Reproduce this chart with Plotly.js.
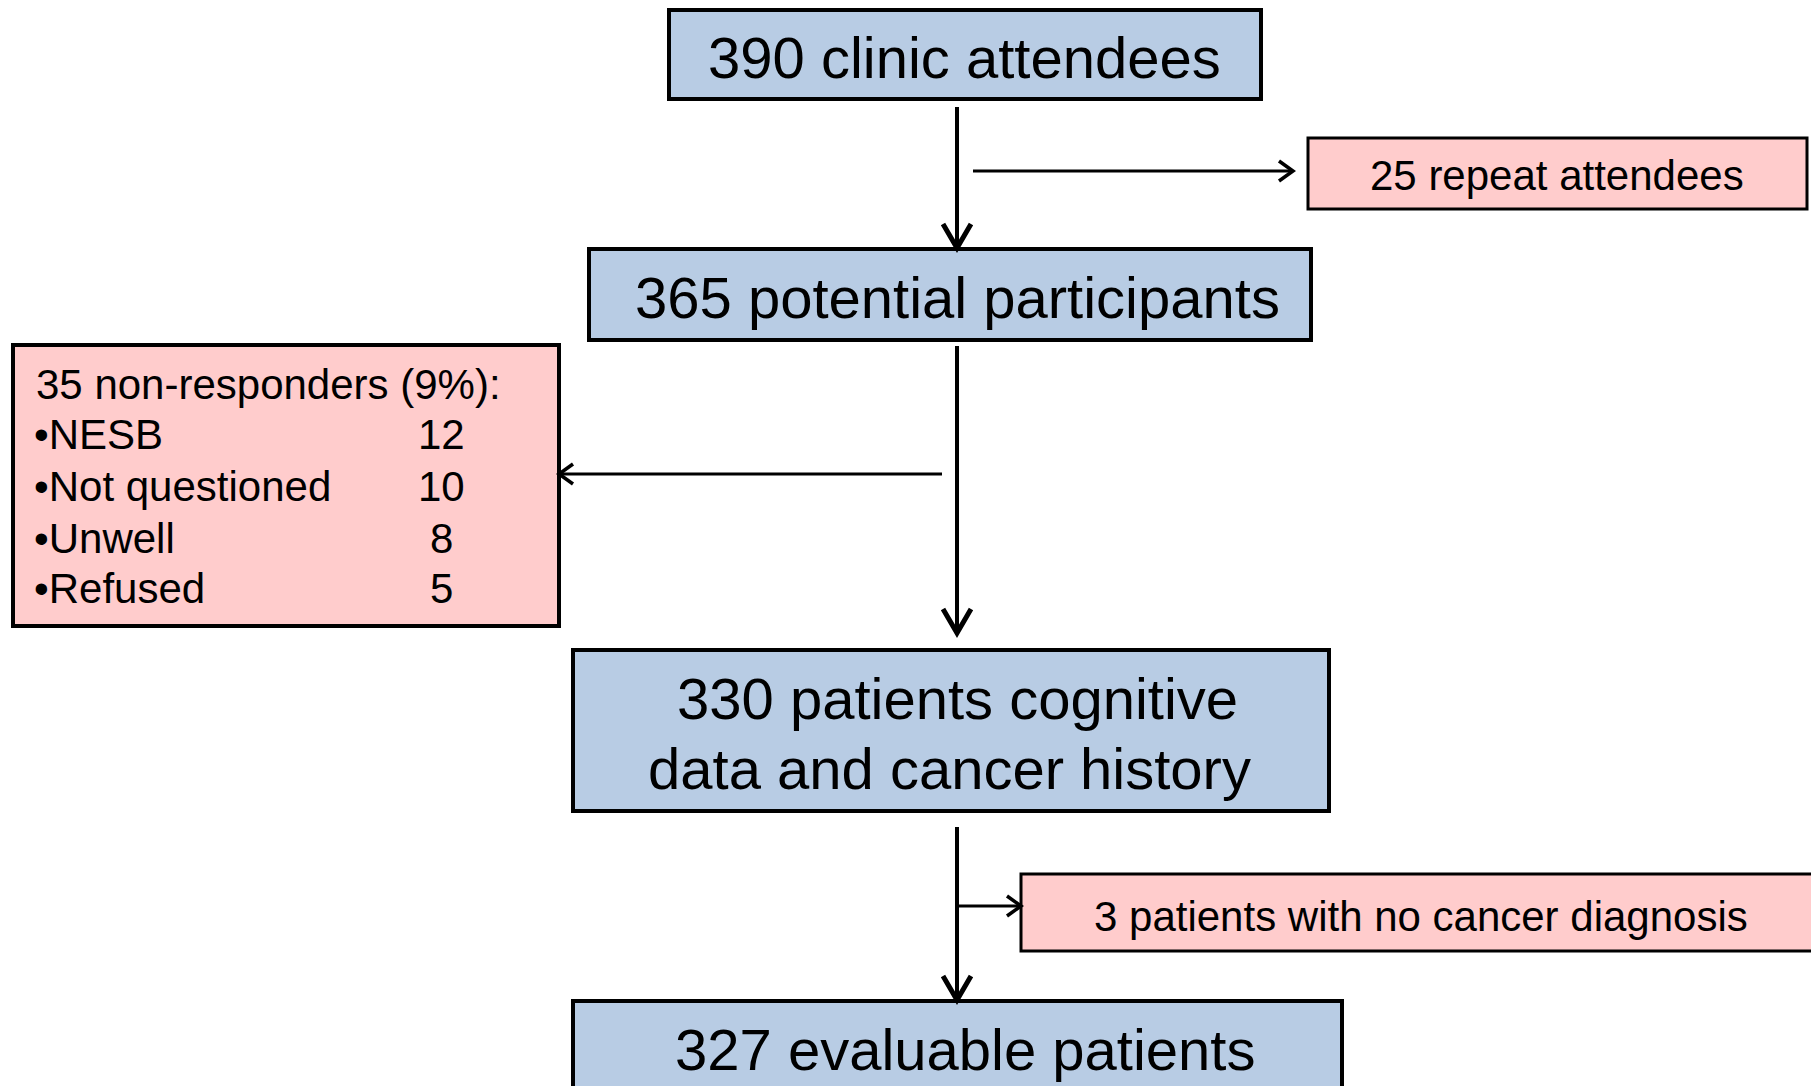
<!DOCTYPE html>
<html>
<head>
<meta charset="utf-8">
<script src="https://cdn.plot.ly/plotly-3.0.1.min.js"></script>
<style>
  html, body { margin: 0; padding: 0; background: #ffffff; }
  #chart { width: 1811px; height: 1086px; }
</style>
</head>
<body>
<div id="chart"></div>
<script>
// ---- data ----
const stageLabels = [
  "390 clinic attendees",
  "365 potential participants",
  "330 patients cognitive<br>data and cancer history",
  "327 evaluable patients"
];
const exclusionLabels = [
  "25 repeat attendees",
  "35 non-responders (9%):",
  "3 patients with no cancer diagnosis"
];
const reasonLabels = ["NESB", "Not questioned", "Unwell", "Refused"];
const reasonCounts = [12, 10, 8, 5];

// ---- layout geometry (pixels, y downward) ----
const W = 1811, H = 1086;
const FONT = "Liberation Sans, Arial, Helvetica, sans-serif";
const BLUE = "#B8CCE4", PINK = "#FFCCCC";

const stageBoxes = [
  {x0: 669, x1: 1261, y0: 10,   y1: 99,   tx: 964, ty: [57]},
  {x0: 589, x1: 1311, y0: 249,  y1: 340,  tx: 957, ty: [297]},
  {x0: 573, x1: 1329, y0: 650,  y1: 811,  tx: [957, 949], ty: [698, 768]},
  {x0: 573, x1: 1342, y0: 1001, y1: 1110, tx: 965, ty: [1049]}
];
const exclBoxes = [
  {x0: 1308, x1: 1807, y0: 138, y1: 209, lw: 3, tx: 1557, ty: 175},
  {x0: 13,   x1: 559,  y0: 345, y1: 626, lw: 4, tx: 34,   ty: 384},
  {x0: 1021, x1: 1840, y0: 874, y1: 951, lw: 3, tx: 1421, ty: 916}
];
const reasonRowY = [434, 486, 538, 588];
const reasonTextX = 32, reasonCountX = 441;

const mainArrows = [
  {x: 957, y0: 107, y1: 248},
  {x: 957, y0: 346, y1: 633},
  {x: 957, y0: 827, y1: 1000}
];
const sideArrows = [
  {y: 171, x0: 973, x1: 1293},
  {y: 474, x0: 942, x1: 559},
  {y: 906, x0: 957, x1: 1021}
];

const shapes = [];
const annotations = [];

function rect(b, fill, lw) {
  shapes.push({type: "rect", xref: "x", yref: "y", x0: b.x0, x1: b.x1, y0: b.y0, y1: b.y1,
    fillcolor: fill, line: {color: "#000000", width: lw}, layer: "below"});
}
function line(x0, y0, x1, y1, w) {
  shapes.push({type: "line", xref: "x", yref: "y", x0, y0, x1, y1,
    line: {color: "#000000", width: w}});
}
function text(t, x, y, size, xanchor) {
  annotations.push({text: t, x, y, xref: "x", yref: "y", showarrow: false,
    xanchor: xanchor || "center", yanchor: "middle",
    font: {family: FONT, size: size, color: "#000000"}});
}

// stage boxes
stageBoxes.forEach((b, i) => {
  rect(b, BLUE, 4);
  const lines = stageLabels[i].split("<br>");
  lines.forEach((ln, k) => {
    const tx = Array.isArray(b.tx) ? b.tx[k] : b.tx;
    text(ln, tx, b.ty[k], 58);
  });
});

// exclusion boxes
exclBoxes.forEach((b, i) => {
  rect(b, PINK, b.lw);
  text(exclusionLabels[i], b.tx, b.ty, 42, i === 1 ? "left" : "center");
});
reasonLabels.forEach((r, i) => {
  text("\u2022" + r, reasonTextX, reasonRowY[i], 42, "left");
  text(String(reasonCounts[i]), reasonCountX, reasonRowY[i], 42, "center");
});

// main vertical arrows
mainArrows.forEach(a => {
  line(a.x, a.y0, a.x, a.y1 - 3, 4);
  shapes.push({type: "path", xref: "x", yref: "y",
    path: `M ${a.x - 14} ${a.y1 - 24} L ${a.x} ${a.y1} L ${a.x + 14} ${a.y1 - 24}`,
    line: {color: "#000000", width: 5}});
});
// side arrows
sideArrows.forEach(a => {
  const dir = a.x1 > a.x0 ? 1 : -1;
  line(a.x0, a.y, a.x1 - dir * 2, a.y, 3);
  shapes.push({type: "path", xref: "x", yref: "y",
    path: `M ${a.x1 - dir * 14} ${a.y - 10} L ${a.x1} ${a.y} L ${a.x1 - dir * 14} ${a.y + 10}`,
    line: {color: "#000000", width: 3.5}});
});

const layout = {
  width: W, height: H,
  margin: {l: 0, r: 0, t: 0, b: 0, pad: 0},
  paper_bgcolor: "#ffffff", plot_bgcolor: "#ffffff",
  showlegend: false,
  xaxis: {range: [0, W], visible: false, fixedrange: true},
  yaxis: {range: [H, 0], visible: false, fixedrange: true},
  shapes, annotations
};

Plotly.newPlot("chart", [], layout, {displayModeBar: false, staticPlot: true});
</script>
</body>
</html>
